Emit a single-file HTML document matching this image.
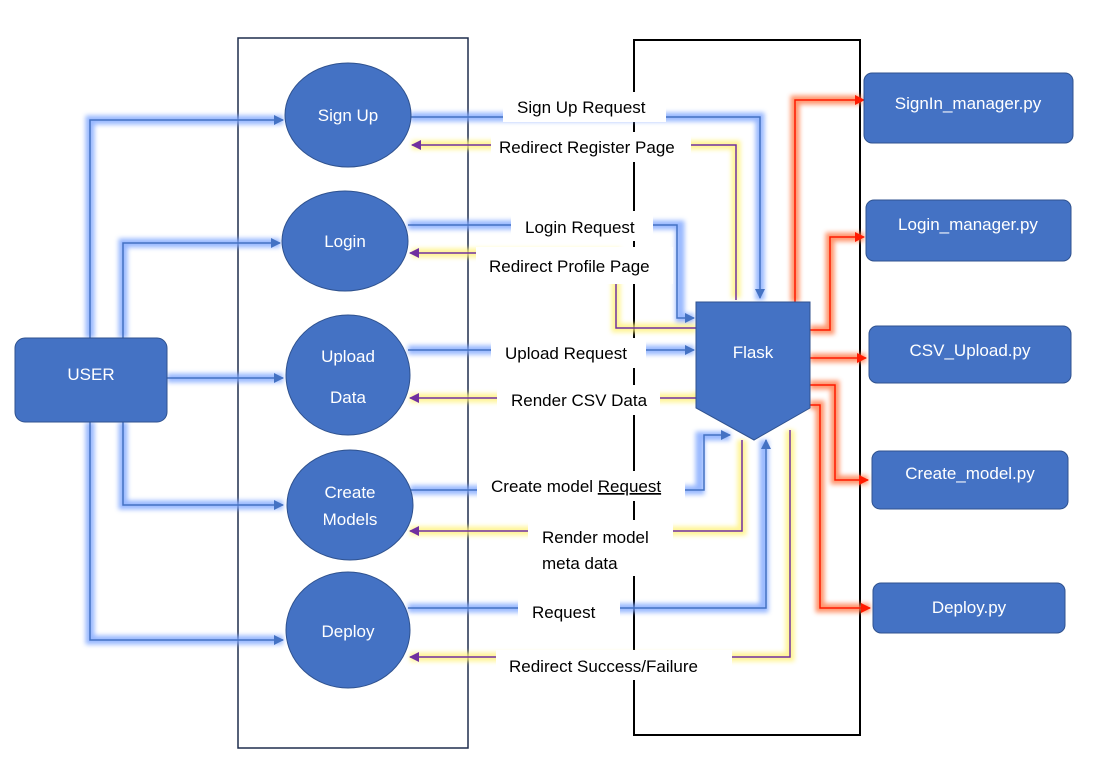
<!DOCTYPE html>
<html><head><style>
body{margin:0;background:#fff;}
svg{display:block;font-family:"Liberation Sans",sans-serif;}
</style></head><body>
<svg width="1103" height="769" viewBox="0 0 1103 769" xmlns="http://www.w3.org/2000/svg">
<defs>
<filter id="g" x="-20%" y="-20%" width="140%" height="140%"><feGaussianBlur stdDeviation="2.5"/></filter>
<marker id="ab" markerWidth="10" markerHeight="10" refX="9" refY="5" orient="auto" markerUnits="userSpaceOnUse"><path d="M0,0 L10,5 L0,10z" fill="#4472c4"/></marker>
<marker id="ap" markerWidth="10" markerHeight="10" refX="9" refY="5" orient="auto" markerUnits="userSpaceOnUse"><path d="M0,0 L10,5 L0,10z" fill="#7030a0"/></marker>
<marker id="ar" markerWidth="10" markerHeight="10" refX="9" refY="5" orient="auto" markerUnits="userSpaceOnUse"><path d="M0,0 L10,5 L0,10z" fill="#ff1a00"/></marker>
</defs>
<rect width="1103" height="769" fill="#fff"/>
<rect x="238" y="38" width="230" height="710" fill="none" stroke="#1f2d4d" stroke-width="1.5"/>
<rect x="634" y="40" width="226" height="695" fill="none" stroke="#000" stroke-width="2"/>

<!-- glows -->
<g fill="none" stroke-width="9" filter="url(#g)" opacity="0.8">
<g stroke="#7ea6ff">
<path d="M90,338 V120 H283 M90,422 V640 H283 M123,338 V243 H280 M123,422 V505 H283 M167,378 H283"/>
<path d="M410,117 H760 V300 M408,225 H680 V318 H694 M408,350 H694 M410,490 H700 V436 H730 M408,608 H764 V440"/>
</g>
<g stroke="#fff27a">
<path d="M412,145 H736 V298 M412,253 H616 V328 H696 M410,398 H697 V392 M410,531 H742 V440 M410,657 H790 V430"/>
</g>
<g stroke="#ff7a4a">
<path d="M795,302 V100 H862 M810,330 H830 V237 H864 M810,358 H866 M810,385 H835 V480 H868 M810,405 H820 V608 H870"/>
</g>
</g>
<!-- lines -->
<g fill="none" stroke-width="1.5">
<g stroke="#4472c4">
<path d="M90,338 V120 H283" marker-end="url(#ab)"/><path d="M90,422 V640 H283" marker-end="url(#ab)"/>
<path d="M123,338 V243 H280" marker-end="url(#ab)"/><path d="M123,422 V505 H283" marker-end="url(#ab)"/>
<path d="M167,378 H283" marker-end="url(#ab)"/>
<path d="M410,117 H760 V298" marker-end="url(#ab)"/>
<path d="M408,225 H677 V318 H694" marker-end="url(#ab)"/>
<path d="M408,350 H694" marker-end="url(#ab)"/>
<path d="M410,490 H704 V435 H730" marker-end="url(#ab)"/>
<path d="M408,608 H766 V440" marker-end="url(#ab)"/>
</g>
<g stroke="#7030a0">
<path d="M736,300 V145 H412" marker-end="url(#ap)"/>
<path d="M696,328 H616 V253 H410" marker-end="url(#ap)"/>
<path d="M697,392 V398 H410" marker-end="url(#ap)"/>
<path d="M742,440 V531 H410" marker-end="url(#ap)"/>
<path d="M790,430 V657 H410" marker-end="url(#ap)"/>
</g>
<g stroke="#ff1a00">
<path d="M795,302 V100 H864" marker-end="url(#ar)"/>
<path d="M810,330 H830 V237 H864" marker-end="url(#ar)"/>
<path d="M810,358 H866" marker-end="url(#ar)"/>
<path d="M810,385 H835 V480 H868" marker-end="url(#ar)"/>
<path d="M810,405 H820 V608 H870" marker-end="url(#ar)"/>
</g>
</g>

<!-- label backgrounds -->
<g fill="#fff">
<rect x="503" y="92" width="163" height="30"/><rect x="491" y="132" width="200" height="30"/>
<rect x="511" y="211" width="142" height="30"/><rect x="476" y="247" width="197" height="37"/>
<rect x="491" y="338" width="155" height="30"/><rect x="497" y="385" width="163" height="30"/>
<rect x="477" y="471" width="208" height="30"/><rect x="528" y="520" width="145" height="56"/>
<rect x="518" y="596" width="102" height="30"/><rect x="496" y="650" width="236" height="30"/>
</g>
<g font-size="17" fill="#000">
<text x="517" y="113">Sign Up Request</text>
<text x="499" y="153">Redirect Register Page</text>
<text x="525" y="233">Login Request</text>
<text x="489" y="272">Redirect Profile Page</text>
<text x="505" y="359">Upload Request</text>
<text x="511" y="406">Render CSV Data</text>
<text x="491" y="492">Create model <tspan text-decoration="underline">Request</tspan></text>
<text x="542" y="543">Render model</text>
<text x="542" y="569">meta data</text>
<text x="532" y="618">Request</text>
<text x="509" y="672">Redirect Success/Failure</text>
</g>

<!-- shapes -->
<g fill="#4472c4" stroke="#2f528f" stroke-width="1">
<rect x="15" y="338" width="152" height="84" rx="10"/>
<ellipse cx="348" cy="115" rx="63" ry="52"/>
<ellipse cx="345" cy="241" rx="63" ry="50"/>
<ellipse cx="348" cy="375" rx="62" ry="60"/>
<ellipse cx="350" cy="505" rx="63" ry="55"/>
<ellipse cx="348" cy="630" rx="62" ry="58"/>
<path d="M696,302 H810 V408 L754,440 L696,408z"/>
<rect x="864" y="73" width="209" height="70" rx="8"/>
<rect x="866" y="200" width="205" height="61" rx="8"/>
<rect x="869" y="326" width="202" height="57" rx="8"/>
<rect x="872" y="451" width="196" height="58" rx="8"/>
<rect x="873" y="583" width="192" height="50" rx="8"/>
</g>
<g font-size="17" fill="#fff" text-anchor="middle">
<text x="91" y="380">USER</text>
<text x="348" y="121">Sign Up</text>
<text x="345" y="247">Login</text>
<text x="348" y="362">Upload</text>
<text x="348" y="403">Data</text>
<text x="350" y="498">Create</text>
<text x="350" y="525">Models</text>
<text x="348" y="637">Deploy</text>
<text x="753" y="358">Flask</text>
<text x="968" y="109">SignIn_manager.py</text>
<text x="968" y="230">Login_manager.py</text>
<text x="970" y="356">CSV_Upload.py</text>
<text x="970" y="479">Create_model.py</text>
<text x="969" y="613">Deploy.py</text>
</g>
</svg>
</body></html>
